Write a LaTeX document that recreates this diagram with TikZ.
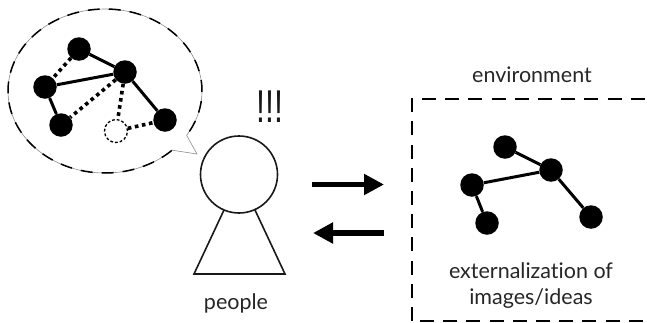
\documentclass[tikz,border=0pt]{standalone}
\usepackage{fontspec}
\setmainfont[Ligatures=NoCommon]{Lato}
\newfontfamily\bangfont{Liberation Sans}
\usetikzlibrary{arrows.meta}
\tikzset{
 x=1pt,y=-1pt,
 dot/.style={circle,fill=black,draw=none,minimum size=23.5pt,inner sep=0pt},
 ghost/.style={circle,draw=black,line width=1.3pt,dash pattern=on 2.8pt off 2pt,minimum size=23pt,inner sep=0pt},
 solidlink/.style={line width=3pt,draw=black},
 dotlink/.style={line width=3.6pt,draw=black,dash pattern=on 3.6pt off 3.6pt},
 label/.style={font=\fontsize{21.5pt}{26pt}\selectfont,text=black!85,align=center,inner sep=0pt},
 outline/.style={line width=1.6pt,draw=black!90},
 bigarrow/.style={line width=5.4pt,-{Triangle[length=20pt,width=20pt]}},
 boxdash/.style={line width=1.6pt,dash pattern=on 14pt off 9.2pt},
}
\begin{document}
\begin{tikzpicture}
\useasboundingbox (0,0) rectangle (647,322);
% bubble
\draw[line width=.6pt,draw=black!45] plot[smooth,samples=100,domain=46.6:392.7] ({105+97*cos(\x)},{91+82*sin(\x)}) -- (197,154) -- (171,150);
\draw[line width=1.5pt,dash pattern=on 12pt off 9pt] plot[smooth,samples=100,domain=46.6:392.7] ({105+97*cos(\x)},{91+82*sin(\x)});
% thought graph
\node[dot] (a) at (79,49) {};
\node[dot] (b) at (125,72) {};
\node[dot] (c) at (45,87) {};
\node[dot] (d) at (61,125) {};
\node[dot] (e) at (165,120) {};
\node[ghost] (g) at (116,131) {};
\draw[solidlink] (a)--(b);
\draw[solidlink] (c)--(b);
\draw[solidlink] (c)--(d);
\draw[solidlink] (b)--(e);
\draw[dotlink] (a)--(c);
\draw[dotlink] (b)--(d);
\draw[dotlink] (b)--(g);
\draw[dotlink] (g)--(e);
% person
\node[inner sep=0pt,text=black!90,font=\bangfont\fontsize{46pt}{46pt}\selectfont,xscale=.7] (bang) at (270,106.5) {!!!};
\node[circle,outline,draw,minimum size=77pt,inner sep=0pt] (head) at (239,174.5) {};
\coordinate (tl) at (224,210);
\coordinate (tr) at (255,210);
\coordinate (bl) at (194,274);
\coordinate (br) at (285,274);
\draw[outline] (tl)--(bl)--(br)--(tr);
\node[label] (people) at (236,303) {people};
% arrows
\coordinate (a1s) at (312,184.5);
\coordinate (a1e) at (384,184.5);
\coordinate (a2s) at (384,233);
\coordinate (a2e) at (313,233);
\draw[bigarrow] (a1s)--(a1e);
\draw[bigarrow] (a2s)--(a2e);
% environment
\coordinate (bxa) at (412,321);
\coordinate (bxb) at (412,99);
\coordinate (bxc) at (647,99);
\coordinate (bxd) at (647,321);
\draw[boxdash] (bxa)--(bxb)--(bxc);
\draw[boxdash] (bxa)++(8,0)--(bxd);
\node[label] (env) at (532,75) {environment};
\node[dot] (A) at (505,147) {};
\node[dot] (B) at (551,170) {};
\node[dot] (C) at (472,185) {};
\node[dot] (D) at (487,223) {};
\node[dot] (E) at (591,217) {};
\draw[solidlink] (A)--(B);
\draw[solidlink] (C)--(B);
\draw[solidlink] (C)--(D);
\draw[solidlink] (B)--(E);
\node[label] (ext) at (531,286) {externalization of\\images/ideas};
\end{tikzpicture}
\end{document}
